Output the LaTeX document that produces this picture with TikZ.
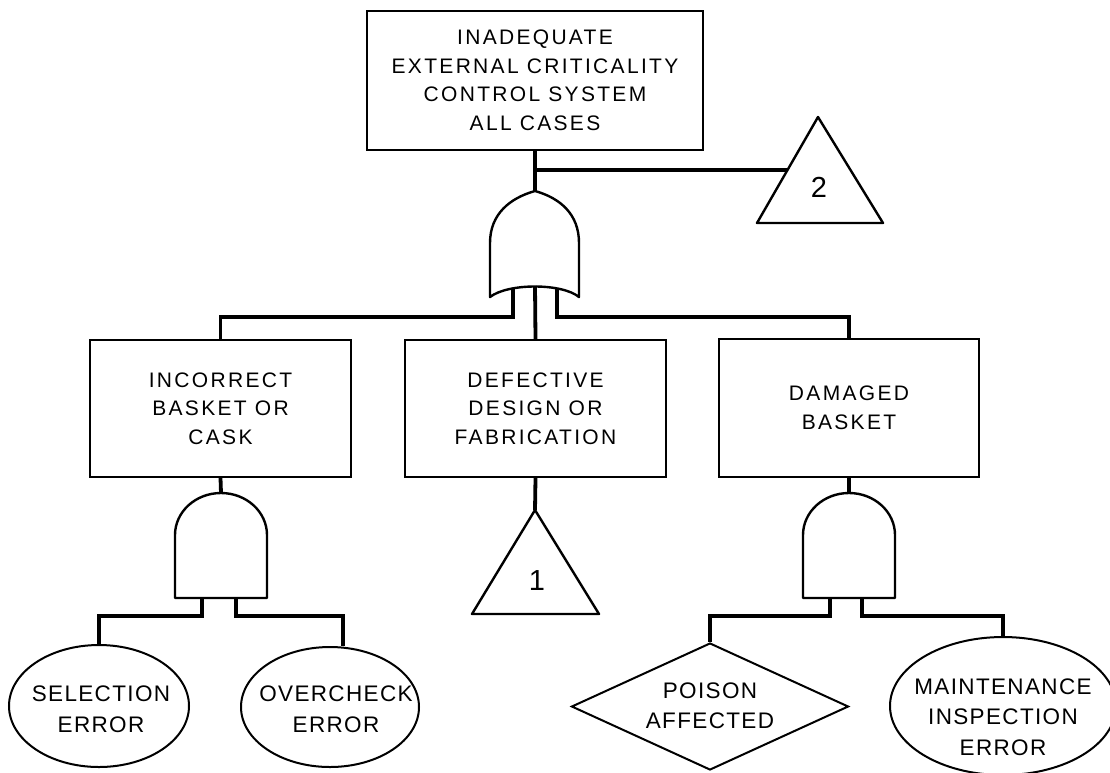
\documentclass[tikz,border=0pt]{standalone}
\usepackage{fontspec}
\setmainfont{Liberation Sans}[LetterSpace=11]
\newfontfamily\botfont{Liberation Sans}[LetterSpace=6]
\usetikzlibrary{shapes.geometric,calc}
\tikzset{
  conn/.style={line width=3.8pt},
  evbox/.style={draw, line width=1.8pt, rectangle, inner sep=0pt},
  gateline/.style={line width=2.4pt, line join=round},
  shapeline/.style={draw, line width=2pt, inner sep=0pt},
  lbl/.style={align=center, font=\fontsize{21}{28.5}\selectfont, inner sep=0pt},
  lblb/.style={align=center, font=\botfont\fontsize{22.5}{30.5}\selectfont, inner sep=0pt},
  num/.style={font=\fontsize{29}{30}\selectfont, inner sep=0pt},
}
\begin{document}
\begin{tikzpicture}[x=1pt,y=-1pt]
\useasboundingbox (0,0) rectangle (1110,772);

% event boxes
\node[evbox, lbl, minimum width=336pt, minimum height=139pt] (top) at (535,80.5)
  {INADEQUATE\\EXTERNAL CRITICALITY\\CONTROL SYSTEM\\ALL CASES};
\node[evbox, lbl, minimum width=261pt, minimum height=137pt] (lb) at (220.5,408.5)
  {INCORRECT\\BASKET OR\\CASK};
\node[evbox, lbl, minimum width=261pt, minimum height=137pt] (mb) at (535.5,408.5)
  {DEFECTIVE\\DESIGN OR\\FABRICATION};
\node[evbox, lbl, minimum width=260pt, minimum height=138pt] (rb) at (849,408)
  {DAMAGED\\BASKET};

% OR gate
\coordinate (ortop) at (535,191);
\draw[gateline] (490,297) -- (490,243) .. controls (490,214) and (510,198) .. (ortop)
  .. controls (560,198) and (579,214) .. (579,243) -- (579,297)
  .. controls (562,283) and (508,283) .. (490,297) -- cycle;
\coordinate (orL) at (513,288);
\coordinate (orM) at (535,286);
\coordinate (orR) at (557,288);
\coordinate (busA) at (0,317);

% transfer triangle 2
\coordinate (t2apex) at (818,117);
\draw[gateline] (t2apex) -- (883,223) -- (757,223) -- cycle;
\coordinate (t2in) at (787.5,170);
\node[num] (n2) at (819,187) {2};

% transfer triangle 1
\coordinate (t1apex) at (535,510);
\draw[gateline] (t1apex) -- (599,614) -- (472,614) -- cycle;
\node[num] (n1) at (537,581) {1};

% left AND gate
\coordinate (andLtop) at (221,493);
\draw[gateline] (175,598) -- (175,535) arc[start angle=180,end angle=0,x radius=46pt,y radius=42pt] -- (267,598) -- cycle;
\coordinate (andLa) at (202,598);
\coordinate (andLb) at (236,598);

% right AND gate
\coordinate (andRtop) at (849,493);
\draw[gateline] (803,598) -- (803,535) arc[start angle=180,end angle=0,x radius=46pt,y radius=42pt] -- (895,598) -- cycle;
\coordinate (andRa) at (830,598);
\coordinate (andRb) at (862,598);
\coordinate (busB) at (0,616);

% basic / undeveloped events
\node[shapeline, ellipse, minimum width=180pt, minimum height=122pt] (sel) at (99,706) {};
\node[lblb] (selt) at ($(sel.center)+(2,3)$) {SELECTION\\ERROR};
\node[shapeline, ellipse, minimum width=178pt, minimum height=120pt] (oc) at (330,707) {};
\node[lblb] (oct) at ($(oc.center)+(6,2)$) {OVERCHECK\\ERROR};
\node[shapeline, diamond, minimum width=277pt, minimum height=127pt] (pa) at (710,706.5) {};
\node[lblb] (pat) at ($(pa.center)+(0,-1)$) {POISON\\AFFECTED};
\node[shapeline, ellipse, minimum width=226pt, minimum height=138pt] (mi) at (1003,706) {};
\node[lblb] (mit) at ($(mi.center)+(0,11)$) {MAINTENANCE\\INSPECTION\\ERROR};

% connectors
\draw[conn] (top.south) -- (ortop);
\draw[conn] (top.south |- t2in) -- (t2in);
\draw[conn] (orL) |- (lb.north |- busA) -- (lb.north);
\draw[conn] (orM) -- (mb.north);
\draw[conn] (orR) |- (rb.north |- busA) -- (rb.north);
\draw[conn] (lb.south) -- (andLtop);
\draw[conn] (mb.south) -- (t1apex);
\draw[conn] (rb.south) -- (andRtop);
\draw[conn] (andLa) |- (sel.north |- busB) -- (sel.north);
\coordinate (ocin) at ($(oc.north)+(13,0)$);
\draw[conn] (andLb) |- (ocin |- busB) -- (ocin);
\draw[conn] (andRa) |- (pa.north |- busB) -- (pa.north);
\draw[conn] (andRb) |- (mi.north |- busB) -- (mi.north);
\end{tikzpicture}
\end{document}
